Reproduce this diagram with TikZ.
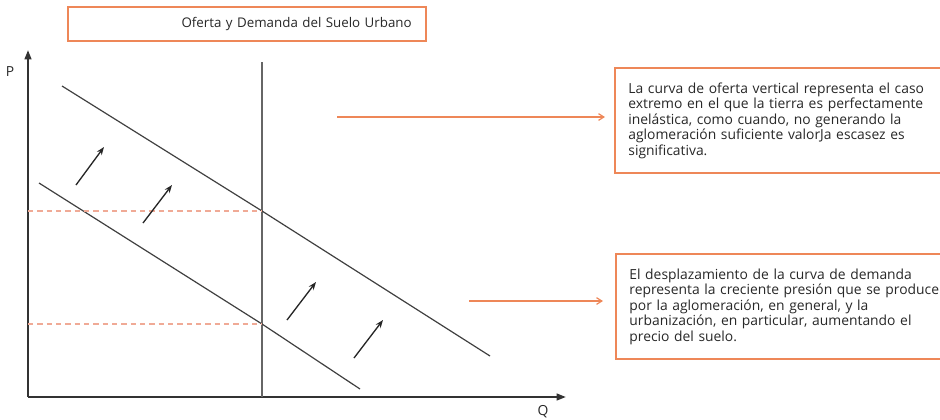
\documentclass[tikz,border=0pt]{standalone}
\usepackage{fontspec}
\setmainfont{Open Sans}
\usetikzlibrary{arrows.meta}
\definecolor{naranja}{RGB}{238,135,88}
\definecolor{rayado}{RGB}{240,170,150}
\definecolor{texto}{RGB}{40,40,40}
\begin{document}
\begin{tikzpicture}[x=0.75pt, y=-0.75pt,
  every node/.style={font=\fontsize{10.4}{11.6}\selectfont, text=texto},
  caja/.style={draw=naranja, line width=1.6pt, fill=white, inner xsep=10pt, align=left},
  eje/.style={line width=1.5pt, black!80, -{Triangle[length=7pt,width=5pt]}},
  curva/.style={line width=0.9pt, black!75},
  guia/.style={rayado, line width=0.9pt, dash pattern=on 4pt off 3pt},
  flecha/.style={line width=1pt, black!85, -{Stealth[length=6pt,width=4.5pt]}},
  senal/.style={naranja, line width=0.9pt, -{Straight Barb[length=4pt,width=5pt]}}]
  \useasboundingbox (0,0) rectangle (940,419);
  % titulo
  \node[caja, align=right, text width=247pt, inner xsep=11pt, minimum height=25pt,
        font=\fontsize{10}{11.6}\selectfont] (titulo) at (247,24) {Oferta y Demanda del Suelo Urbano};
  % ejes
  \coordinate (O) at (28,397);
  \draw[eje] (O) -- (28,50) coordinate (ytop);
  \draw[eje] (O) -- (566,397) coordinate (xend);
  \node (P) at (10,72) {P};
  \node (Q) at (543,412) {Q};
  % oferta vertical y demandas
  \coordinate (E1) at (262,211);
  \coordinate (E2) at (262,324);
  \draw[curva, black!60, line width=0.8pt] (262,62) coordinate (S1) -- (262,397) coordinate (S2);
  \draw[curva] (62,86) coordinate (D1a) -- (E1) -- (490,356) coordinate (D1b);
  \draw[curva] (39,183) coordinate (D0a) -- (E2) -- (360,389) coordinate (D0b);
  \draw[guia] (28,211) -- (E1);
  \draw[guia] (28,324) -- (E2);
  % desplazamiento
  \draw[flecha] (76,185) -- (104,147);
  \draw[flecha] (143,223) -- (172,185);
  \draw[flecha] (287,320) -- (316,282);
  \draw[flecha] (354,358) -- (383,320);
  % notas
  \node[caja, anchor=north west, minimum height=79pt, text width=240pt] (nota1) at (614,67)
    {La curva de oferta vertical representa el caso\\ extremo en el que la tierra es perfectamente\\ inelástica, como cuando, no generando la\\ aglomeración suficiente valorJa escasez es\\ significativa.};
  \node[caja, anchor=north west, minimum height=79pt, text width=240pt] (nota2) at (615,253)
    {El desplazamiento de la curva de demanda\\ representa la creciente presión que se produce\\ por la aglomeración, en general, y la\\ urbanización, en particular, aumentando el\\ precio del suelo.};
  \coordinate (o1) at (337,117);
  \coordinate (o2) at (469,301);
  \draw[senal] (o1) -- (605,117);
  \draw[senal] (o2) -- (603,301);
\end{tikzpicture}
\end{document}
